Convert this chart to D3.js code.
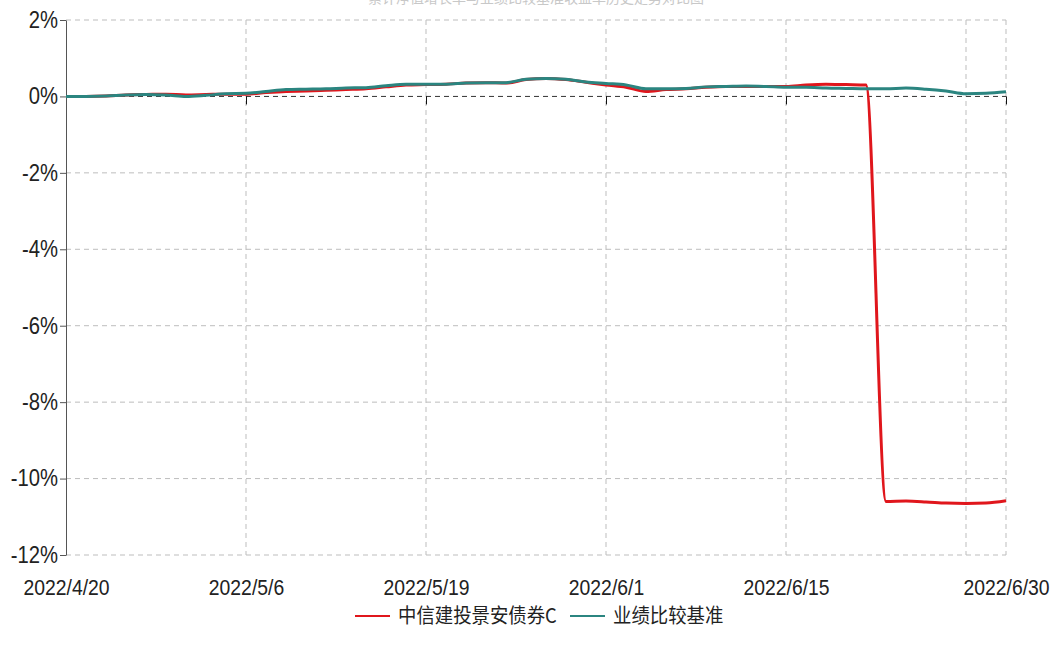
<!DOCTYPE html>
<html><head><meta charset="utf-8">
<script src="https://cdn.jsdelivr.net/npm/d3@7"></script>
<style>
html,body{margin:0;padding:0;background:#fff;}
svg{display:block;}
</style></head>
<body>
<svg id="chart" width="1054" height="652"></svg>
<script>
// ---- data ----
const dates = ["2022/4/20","2022/4/21","2022/4/22","2022/4/25","2022/4/26","2022/4/27","2022/4/28","2022/4/29",
"2022/5/5","2022/5/6","2022/5/9","2022/5/10","2022/5/11","2022/5/12","2022/5/13","2022/5/16","2022/5/17","2022/5/18","2022/5/19",
"2022/5/20","2022/5/23","2022/5/24","2022/5/25","2022/5/26","2022/5/27","2022/5/30","2022/5/31",
"2022/6/1","2022/6/2","2022/6/6","2022/6/7","2022/6/8","2022/6/9","2022/6/10","2022/6/13","2022/6/14","2022/6/15",
"2022/6/16","2022/6/17","2022/6/20","2022/6/21","2022/6/22","2022/6/23","2022/6/24","2022/6/27","2022/6/28","2022/6/29","2022/6/30"];
const fundValues = [0.00,0.00,0.01,0.04,0.05,0.06,0.04,0.05,0.06,0.06,0.10,0.13,0.14,0.16,0.18,0.20,0.25,0.30,0.31,
0.32,0.35,0.36,0.35,0.44,0.47,0.44,0.37,0.30,0.24,0.13,0.18,0.20,0.24,0.26,0.26,0.26,0.26,
0.30,0.32,0.31,0.30,-10.60,-10.59,-10.61,-10.64,-10.65,-10.64,-10.58];
const benchValues = [0.00,0.00,0.01,0.04,0.05,0.04,0.00,0.03,0.07,0.08,0.13,0.18,0.19,0.20,0.22,0.23,0.28,0.32,0.32,
0.32,0.35,0.36,0.36,0.45,0.47,0.45,0.38,0.34,0.30,0.20,0.20,0.21,0.25,0.26,0.27,0.26,0.24,
0.24,0.22,0.21,0.20,0.20,0.22,0.19,0.14,0.07,0.08,0.12];
const seriesNames = ["中信建投景安债券C","业绩比较基准"];
const yTicks = [2,0,-2,-4,-6,-8,-10,-12];
const xLabelIdx = [0,9,18,27,36,47];
const xTickIdx = [9,18,27,36,47];
const xGridIdx = [9,18,27,36,45,47];
const title = "累计净值增长率与业绩比较基准收益率历史走势对比图";

const colors = ["#e0161c","#2b8580"];
const svg = d3.select("#chart");
const L = 66, R = 1006, T = 20, B = 555;
const x = d3.scalePoint().domain(dates).range([L, R]);
const y = d3.scaleLinear().domain([-12, 2]).range([B, T]);
const font = "'Liberation Sans', Arial, sans-serif";
const cjk = "'Noto Sans CJK SC', sans-serif";
const SX = 0.88;

// title (cut off at top, as in the reference)
svg.append("text").attr("x", 536).attr("y", 3).attr("text-anchor","middle")
  .attr("font-family", cjk).attr("font-size",14).attr("fill","#c8c8c8").text(title);

// horizontal grid
svg.append("g").selectAll("line").data(yTicks.filter(d => d !== 0)).join("line")
  .attr("x1", L).attr("x2", R).attr("y1", d => y(d)).attr("y2", d => y(d))
  .attr("stroke","#bdbdbd").attr("stroke-width",1).attr("stroke-dasharray","5,4");
// vertical grid
svg.append("g").selectAll("line").data(xGridIdx).join("line")
  .attr("x1", i => x(dates[i])).attr("x2", i => x(dates[i])).attr("y1", T).attr("y2", B)
  .attr("stroke","#bdbdbd").attr("stroke-width",1).attr("stroke-dasharray","5,4");
// zero line (dashed dark)
svg.append("line").attr("x1", L).attr("x2", R).attr("y1", y(0)).attr("y2", y(0))
  .attr("stroke","#333").attr("stroke-width",1).attr("stroke-dasharray","5,4");

// y axis
const yAxis = svg.append("g").attr("transform", `translate(${L},0)`)
  .call(d3.axisLeft(y).tickValues(yTicks).tickSize(6).tickSizeOuter(0).tickPadding(3).tickFormat(d => d + "%"));
yAxis.select(".domain").attr("stroke","#555");
yAxis.selectAll(".tick line").attr("stroke","#555");
yAxis.selectAll("text").attr("font-family", font).attr("font-size", 23).attr("fill","#222")
  .attr("transform", `scale(${SX},1)`);

// x ticks on zero line
const xTickAxis = svg.append("g").attr("transform", `translate(0,${y(0)})`)
  .call(d3.axisBottom(x).tickValues(xTickIdx.map(i => dates[i])).tickSize(8).tickFormat(""));
xTickAxis.select(".domain").remove();
xTickAxis.selectAll(".tick line").attr("stroke","#111");

// x labels at bottom
const xLab = svg.append("g").attr("transform", `translate(0,${B})`)
  .call(d3.axisBottom(x).tickValues(xLabelIdx.map(i => dates[i])).tickSize(0).tickPadding(24));
xLab.select(".domain").remove();
xLab.selectAll("text").attr("font-family", font).attr("font-size", 22).attr("fill","#222")
  .attr("transform", `scale(${SX},1)`);

// lines
const line = d3.line().x((d,i) => x(dates[i])).y(d => y(d)).curve(d3.curveMonotoneX);
[fundValues, benchValues].forEach((vals, k) => {
  svg.append("path").datum(vals).attr("d", line).attr("fill","none")
    .attr("stroke", colors[k]).attr("stroke-width", 3).attr("stroke-linejoin","round");
});

// legend
const LY = 616;
const legendItems = [{x:355, name:seriesNames[0], c:colors[0]},{x:570, name:seriesNames[1], c:colors[1]}];
const lg = svg.append("g");
legendItems.forEach(it => {
  lg.append("line").attr("x1", it.x).attr("x2", it.x + 35).attr("y1", LY).attr("y2", LY)
    .attr("stroke", it.c).attr("stroke-width", 2);
  lg.append("text").attr("transform", `translate(${it.x + 43},${LY}) scale(0.92,1)`).attr("dy","0.35em")
    .attr("font-family", cjk).attr("font-size", 20).attr("fill","#222").text(it.name);
});
</script>
</body></html>
